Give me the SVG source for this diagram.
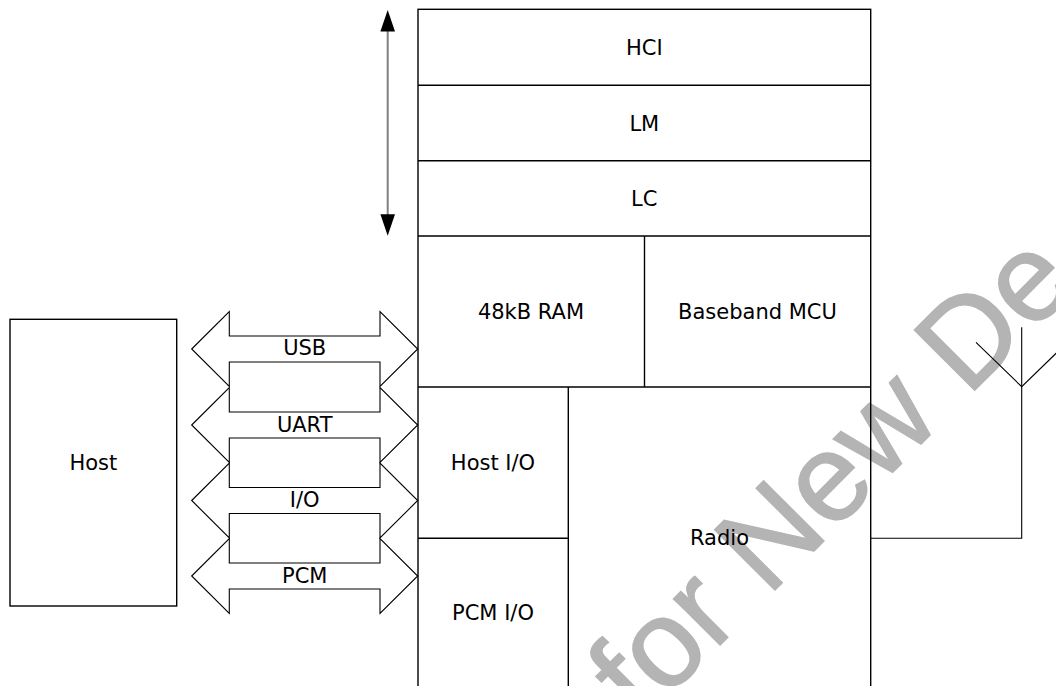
<svg xmlns="http://www.w3.org/2000/svg" width="1056" height="686" viewBox="0 0 1056 686">
<style>
.ln{fill:none;stroke:#000;stroke-width:1.4}
.thin{fill:none;stroke:#000;stroke-width:1.1}
.t{font-family:"DejaVu Sans",Verdana,sans-serif;font-size:21px;fill:#000;text-anchor:middle}
.wm{font-family:"Liberation Sans",Arial,sans-serif;font-size:124px;fill:#b4b4b4;stroke:#b4b4b4;stroke-width:1.5}
</style>
<rect width="1056" height="686" fill="#fff"/>
<text class="wm" x="641" y="724" transform="rotate(-45 641 724)">for New De</text>
<g id="stack">
<rect class="ln" x="418" y="9.3" width="452.7" height="700"/>
<line class="ln" x1="418" y1="85.3" x2="870.7" y2="85.3"/>
<line class="ln" x1="418" y1="160.7" x2="870.7" y2="160.7"/>
<line class="ln" x1="418" y1="236" x2="870.7" y2="236"/>
<line class="ln" x1="418" y1="387" x2="870.7" y2="387"/>
<line class="ln" x1="644.5" y1="236" x2="644.5" y2="387"/>
<line class="ln" x1="568.3" y1="387" x2="568.3" y2="700"/>
<line class="ln" x1="418" y1="538.3" x2="568.3" y2="538.3"/>
</g>
<g id="hci"><text class="t" x="644.3" y="55">HCI</text></g>
<g id="lm"><text class="t" x="644.3" y="130.7">LM</text></g>
<g id="lc"><text class="t" x="644.3" y="206">LC</text></g>
<g id="ram"><text class="t" x="531" y="319">48kB RAM</text></g>
<g id="mcu"><text class="t" x="757.5" y="319">Baseband MCU</text></g>
<g id="hostio"><text class="t" x="493" y="469.5">Host I/O</text></g>
<g id="pcmio"><text class="t" x="493" y="620">PCM I/O</text></g>
<g id="radio"><text class="t" x="719.5" y="545">Radio</text></g>
<g id="host">
<rect class="ln" x="10" y="319.3" width="166.7" height="286.7"/>
<text class="t" x="93.3" y="469.5">Host</text>
</g>
<g id="connectors">
<g id="usb">
<polygon class="thin" points="191.7,349 229.3,311.5 229.3,336 380,336 380,311.5 417.7,349 380,386.5 380,362 229.3,362 229.3,386.5"/>
<text class="t" x="304.7" y="355">USB</text>
</g>
<g id="uart">
<polygon class="thin" points="191.7,425 229.3,387.5 229.3,412 380,412 380,387.5 417.7,425 380,462.5 380,438 229.3,438 229.3,462.5"/>
<text class="t" x="304.7" y="432">UART</text>
</g>
<g id="io">
<polygon class="thin" points="191.7,500.5 229.3,463 229.3,487.5 380,487.5 380,463 417.7,500.5 380,538 380,513.5 229.3,513.5 229.3,538"/>
<text class="t" x="304.7" y="507">I/O</text>
</g>
<g id="pcm">
<polygon class="thin" points="191.7,576 229.3,538.5 229.3,563 380,563 380,538.5 417.7,576 380,613.5 380,589 229.3,589 229.3,613.5"/>
<text class="t" x="304.7" y="583">PCM</text>
</g>
<g id="span">
<line x1="387.7" y1="28" x2="387.7" y2="218" stroke="#808080" stroke-width="2"/>
<polygon points="387.7,10 395,31.5 380.4,31.5" fill="#000"/>
<polygon points="387.7,235.7 395,214.2 380.4,214.2" fill="#000"/>
</g>
<g id="antenna">
<polyline class="thin" points="870.7,538.3 1021.7,538.3 1021.7,327.3"/>
<polyline class="thin" points="976,342.3 1021.7,386.7 1067.4,342.3"/>
</g>
</g>
</svg>
